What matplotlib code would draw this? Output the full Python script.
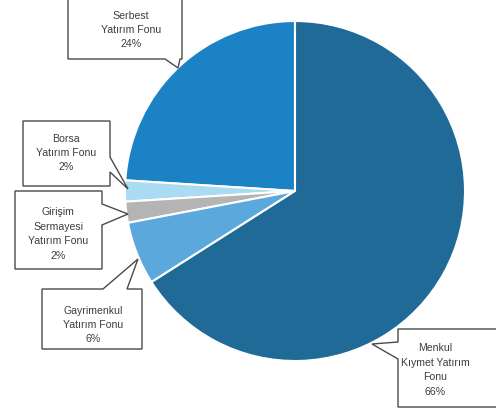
import matplotlib.pyplot as plt
from matplotlib.patches import Polygon

labels = ["Serbest\nYatırım Fonu\n24%",
          "Borsa\nYatırım Fonu\n2%",
          "Girişim\nSermayesi\nYatırım Fonu\n2%",
          "Gayrimenkul\nYatırım Fonu\n6%",
          "Menkul\nKıymet Yatırım\nFonu\n66%"]
values = [24, 2, 2, 6, 66]
colors = ["#1b82c5", "#a9dbf2", "#b4b4b4", "#5ba8dd", "#1f6a97"]

W, H = 496, 410

# callout shapes in pixel coords (y down), text anchor
callouts = [
    ([(68, -3), (182, -3), (182, 60), (180, 60), (178, 69), (165, 60), (68, 60)], (131, 30)),
    ([(23, 122), (110, 122), (110, 158), (128, 190), (110, 173), (110, 187), (23, 187)], (66, 153)),
    ([(15, 192), (102, 192), (102, 205), (128, 215), (102, 226), (102, 270), (15, 270)], (58, 234)),
    ([(42, 290), (103, 290), (138, 260), (127, 290), (142, 290), (142, 350), (42, 350)], (93, 325)),
    ([(398, 330), (499, 330), (499, 408), (398, 408), (398, 360), (372, 345), (398, 343)], (435, 370)),
]


def px(x, y):
    return x, H - y


fig = plt.figure(figsize=(W / 100, H / 100), dpi=100)
ax = fig.add_axes([0, 0, 1, 1])

ax.pie(values, colors=colors, startangle=90, counterclock=True,
       center=px(295, 192), radius=170,
       wedgeprops=dict(edgecolor="white", linewidth=1.5))

for (pts, (tx, ty)), lab in zip(callouts, labels):
    poly = Polygon([px(x, y) for x, y in pts], closed=True,
                   facecolor="white", edgecolor="#4a4a4a", linewidth=1.0, zorder=3)
    ax.add_patch(poly)
    ax.text(*px(tx, ty), lab, ha="center", va="center", fontsize=7.6,
            family="Liberation Sans", color="#3d3d3d",
            linespacing=1.55, zorder=4)

ax.set_xlim(0, W)
ax.set_ylim(0, H)
ax.set_aspect("equal")
ax.axis("off")

plt.savefig("out.png", dpi=100)
